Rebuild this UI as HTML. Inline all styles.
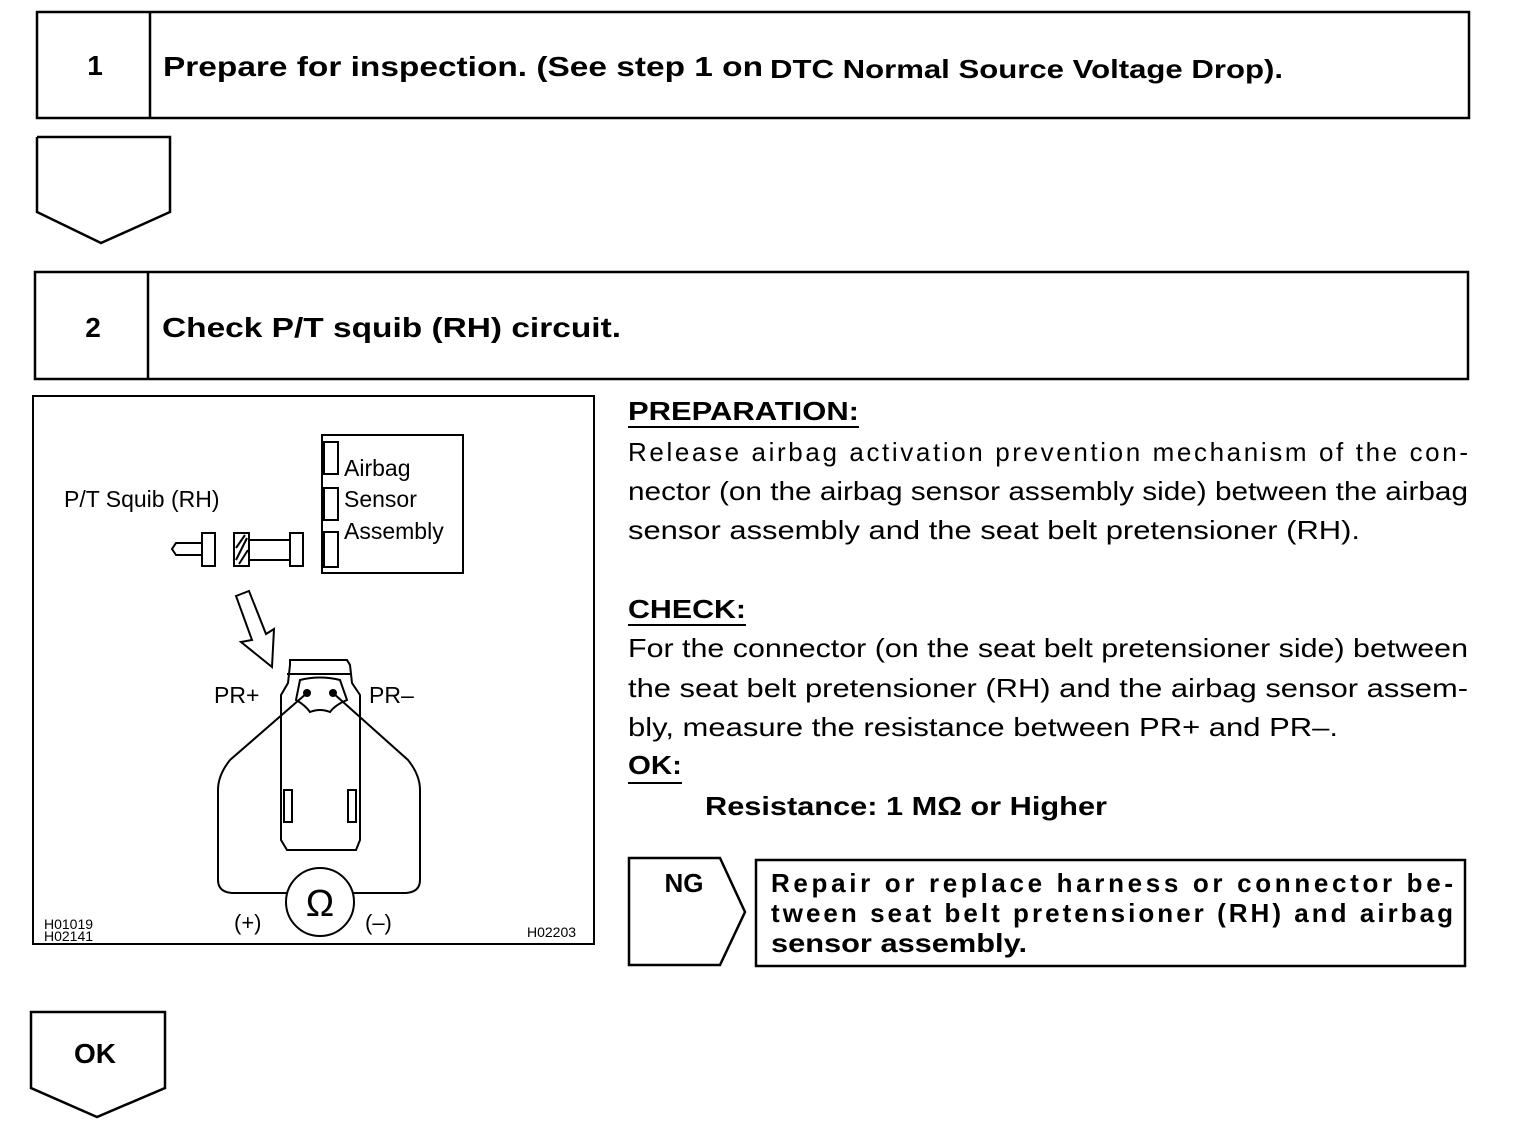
<!DOCTYPE html>
<html><head><meta charset="utf-8"><style>
html,body{margin:0;padding:0;background:#fff;}
svg{display:block;}
text{font-family:"Liberation Sans",Arial,sans-serif;fill:#000;}
.b{font-weight:bold;}
</style></head><body>
<svg width="1520" height="1132" viewBox="0 0 1520 1132" xmlns="http://www.w3.org/2000/svg">
<g fill="none" stroke="#000" stroke-width="2.5">
<rect x="37" y="12" width="1432" height="106"/>
<line x1="150" y1="12" x2="150" y2="118"/>
<polyline points="37,137 170,137 170,212 101,243 37,212 37,137"/>
<rect x="35" y="272" width="1433" height="107"/>
<line x1="148" y1="272" x2="148" y2="379"/>
<rect x="33" y="396" width="561" height="548" stroke-width="2"/>
<polygon points="629,858 720,858 745,912 720,965 629,965"/>
<rect x="756" y="860" width="709" height="106"/>
<polygon points="31,1012 165,1012 165,1088 97,1117 31,1088"/>
</g>
<text x="95" y="75" class="b" font-size="28" text-anchor="middle">1</text>
<text x="163" y="76" class="b" font-size="28" textLength="600" lengthAdjust="spacingAndGlyphs">Prepare for inspection. (See step 1 on</text>
<text x="770" y="78" class="b" font-size="26" textLength="513" lengthAdjust="spacingAndGlyphs">DTC Normal Source Voltage Drop).</text>
<text x="93" y="337" class="b" font-size="28" text-anchor="middle">2</text>
<text x="162" y="337" class="b" font-size="28" textLength="459" lengthAdjust="spacingAndGlyphs">Check P/T squib (RH) circuit.</text>

<!-- diagram -->
<g fill="none" stroke="#000" stroke-width="2">
<rect x="322" y="435" width="141" height="138"/>
<rect x="324" y="442" width="14" height="32"/>
<rect x="324" y="488" width="14" height="32"/>
<rect x="324" y="532" width="14" height="35"/>
<polyline points="202,543 176,543 172,549 176,555 202,555"/>
<rect x="202" y="533" width="13" height="33"/>
<rect x="234" y="533" width="15" height="33"/>
<line x1="236" y1="560" x2="247" y2="538"/><line x1="236" y1="548" x2="245" y2="535"/><line x1="239" y1="564" x2="248" y2="550"/>
<line x1="249" y1="540" x2="290" y2="540"/><line x1="249" y1="560" x2="290" y2="560"/>
<rect x="290" y="533" width="13" height="33"/>
<polygon points="236,596 249,591 266,634 274,629 272,667 241,642 252,640"/>
<path d="M290,665 L290,660 L347,660 L350,665 L352,683 L360,695 L360,840 L356,850 L287,850 L281,840 L281,695 L288,683 Z"/>
<line x1="287" y1="674" x2="352" y2="674"/>
<path d="M300,680 Q320,675 340,680 L347,700 Q335,705 330,712 Q320,708 310,712 Q305,705 296,700 Z"/>
<rect x="284" y="790" width="8" height="32"/><rect x="348" y="790" width="8" height="32"/>
<path d="M307,693 L230,760 Q218,775 218,790 L218,880 Q218,892 232,893 L287,893"/>
<path d="M333,693 L408,760 Q420,775 420,790 L420,880 Q420,892 406,893 L353,893"/>
<circle cx="320" cy="902" r="34"/>
</g>
<circle cx="307" cy="693" r="4" fill="#000"/><circle cx="333" cy="693" r="4" fill="#000"/>
<text x="344" y="476" font-size="23">Airbag</text>
<text x="344" y="507" font-size="23">Sensor</text>
<text x="344" y="539" font-size="23">Assembly</text>
<text x="64" y="507" font-size="23">P/T Squib (RH)</text>
<text x="214" y="703" font-size="23">PR+</text>
<text x="369" y="703" font-size="23">PR–</text>
<text x="320" y="916" font-size="38" text-anchor="middle">Ω</text>
<text x="234" y="930" font-size="22">(+)</text>
<text x="365" y="930" font-size="22">(–)</text>
<text x="44" y="929" font-size="14">H01019</text>
<text x="44" y="941" font-size="14">H02141</text>
<text x="527" y="937" font-size="14">H02203</text>

<!-- right text -->
<g font-size="26">
<text x="628" y="420" class="b" textLength="231" lengthAdjust="spacingAndGlyphs">PREPARATION:</text>
<text x="628" y="461" textLength="840" lengthAdjust="spacing">Release airbag activation prevention mechanism of the con-</text>
<text x="628" y="500" textLength="840" lengthAdjust="spacingAndGlyphs">nector (on the airbag sensor assembly side) between the airbag</text>
<text x="628" y="539" textLength="732" lengthAdjust="spacingAndGlyphs">sensor assembly and the seat belt pretensioner (RH).</text>
<text x="628" y="618" class="b" textLength="118" lengthAdjust="spacingAndGlyphs">CHECK:</text>
<text x="628" y="657" textLength="840" lengthAdjust="spacingAndGlyphs">For the connector (on the seat belt pretensioner side) between</text>
<text x="628" y="697" textLength="840" lengthAdjust="spacingAndGlyphs">the seat belt pretensioner (RH) and the airbag sensor assem-</text>
<text x="628" y="736" textLength="710" lengthAdjust="spacingAndGlyphs">bly, measure the resistance between PR+ and PR–.</text>
<text x="628" y="774" class="b" textLength="54" lengthAdjust="spacingAndGlyphs">OK:</text>
<text x="705" y="815" class="b" textLength="402" lengthAdjust="spacingAndGlyphs">Resistance: 1 MΩ or Higher</text>
</g>
<g stroke="#000" stroke-width="2">
<line x1="628" y1="427" x2="859" y2="427"/>
<line x1="628" y1="625" x2="746" y2="625"/>
<line x1="628" y1="783" x2="682" y2="783"/>
</g>
<text x="684" y="892" class="b" font-size="26" text-anchor="middle">NG</text>
<g font-size="26" class="b">
<text x="771" y="892" class="b" textLength="682" lengthAdjust="spacing">Repair or replace harness or connector be-</text>
<text x="771" y="922" class="b" textLength="682" lengthAdjust="spacing">tween seat belt pretensioner (RH) and airbag</text>
<text x="771" y="952" class="b" textLength="256" lengthAdjust="spacingAndGlyphs">sensor assembly.</text>
</g>
<text x="95" y="1063" class="b" font-size="28" text-anchor="middle">OK</text>
</svg>
</body></html>
